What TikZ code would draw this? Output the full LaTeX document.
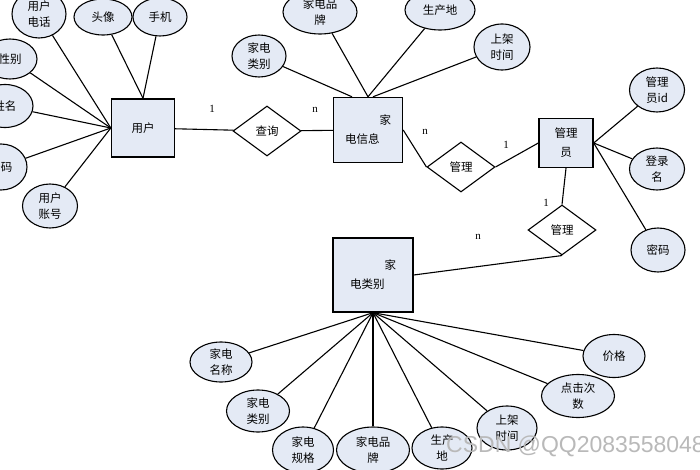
\documentclass[tikz,border=0pt]{standalone}
\usepackage{fontspec}
\setmainfont{Liberation Serif}
\newfontfamily\cjk{Noto Sans CJK SC}
\newfontfamily\wmfont{Liberation Sans}
\usetikzlibrary{shapes.geometric, positioning, calc}
\definecolor{boxfill}{RGB}{228,234,245}

\begin{document}
\begin{tikzpicture}[x=1pt, y=-1pt,
        entity/.style 2 args={draw, line width=1.4pt, fill=boxfill, minimum width=#1, minimum height=#2,
            inner sep=0pt, align=left, font=\cjk\fontsize{11.5}{19}\selectfont},
        attr/.style 2 args={ellipse, draw, line width=1.1pt, fill=boxfill, minimum width=#1, minimum height=#2,
            inner sep=0pt, align=center, font=\cjk\fontsize{11.5}{16}\selectfont},
        rel/.style={diamond, draw, line width=1.1pt, fill=white, minimum width=68pt, minimum height=50pt,
            inner sep=0pt, font=\cjk\fontsize{11.5}{14}\selectfont},
        card/.style={font=\fontsize{11}{13}\selectfont},
        link/.style={line width=1.1pt}
    ]
        % Page
        \path[use as bounding box, fill=white] (0,0) rectangle (700,470);

        % Entities
        \node[entity={63pt}{58pt}] (user) at (143,128) {用户};
        \node[entity={69pt}{65pt}] (info) at (368,130) {\hspace*{3em}家\\电信息};
        \node[entity={54pt}{49pt}, align=center] (admin) at (566,143) {管理\\员};
        \node[entity={80pt}{74pt}] (cat) at (373,275) {\hspace*{3em}家\\电类别};

        % Relations
        \node[rel] (query) at (267,131) {查询};
        \node[rel] (mgone) at (461,167) {管理};
        \node[rel] (mgtwo) at (562,230) {管理};

        % User attributes
        \node[attr={54pt}{48pt}] (uphone) at (39,14) {用户\\电话};
        \node[attr={58pt}{36pt}] (uhead) at (103,17) {头像};
        \node[attr={54pt}{38pt}] (umobile) at (160,17) {手机};
        \node[attr={54pt}{40pt}] (usex) at (10,59) {性别};
        \node[attr={56pt}{43pt}] (uname) at (5,106) {姓名};
        \node[attr={52pt}{46pt}] (upwd) at (1,167) {密码};
        \node[attr={55pt}{44pt}] (uacct) at (50,206) {用户\\账号};

        % Appliance info attributes
        \node[attr={54pt}{42pt}] (itype) at (259,56) {家电\\类别};
        \node[attr={74pt}{44pt}] (ibrand) at (320,12) {家电品\\牌};
        \node[attr={70pt}{40pt}] (iplace) at (440,10) {生产地};
        \node[attr={56pt}{46pt}] (itime) at (502,47) {上架\\时间};

        % Admin attributes
        \node[attr={55pt}{44pt}] (aid) at (657,90) {管理\\员id};
        \node[attr={55pt}{42pt}] (alogin) at (657,169) {登录\\名};
        \node[attr={54pt}{44pt}] (apwd) at (658,250) {密码};

        % Category attributes
        \node[attr={62pt}{40pt}] (cname) at (221,362) {家电\\名称};
        \node[attr={63pt}{42pt}] (ctype) at (258,411) {家电\\类别};
        \node[attr={61pt}{46pt}] (cspec) at (303,450) {家电\\规格};
        \node[attr={73pt}{46pt}] (cbrand) at (373,450) {家电品\\牌};
        \node[attr={60pt}{42pt}] (cplace) at (442,448) {生产\\地};
        \node[attr={60pt}{44pt}] (ctime) at (507,428) {上架\\时间};
        \node[attr={73pt}{43pt}] (cclick) at (578,396) {点击次\\数};
        \node[attr={62pt}{43pt}] (cprice) at (614,356) {价格};

        % Cardinalities
        \node[card] (qone) at (212,109) {1};
        \node[card] (qmany) at (315,110) {n};
        \node[card] (mgonemany) at (425,132) {n};
        \node[card] (mgoneone) at (506,145) {1};
        \node[card] (mgtwoone) at (546,203) {1};
        \node[card] (mgtwomany) at (478,237) {n};

        % Attribute links
        \foreach \a in {uphone, usex, uname, upwd, uacct}
            \draw[link] (\a) -- (user.west);
        \foreach \a in {uhead, umobile}
            \draw[link] (\a) -- (user.north);
        \draw[link] (itype) -- ([xshift=-16pt]info.north);
        \foreach \a in {ibrand, iplace}
            \draw[link] (\a) -- (info.north);
        \draw[link] (itime) -- ([xshift=5pt]info.north);
        \foreach \a in {aid, alogin, apwd}
            \draw[link] (\a) -- (admin.east);
        \foreach \a in {cname, ctype, cspec, cbrand, cplace, ctime, cclick, cprice}
            \draw[link] (\a) -- (cat.south);

        % Relation links
        \draw[link] (user) -- (query) -- (info);
        \draw[link] (info.east) -- (mgone.west);
        \draw[link] (mgone.east) -- (admin.west);
        \draw[link] (admin.south) -- (mgtwo.north);
        \draw[link] (mgtwo.south) -- (cat.east);

        % Watermark
        \node[font=\wmfont\fontsize{23}{25}\selectfont, text=gray!55, anchor=west, inner sep=0pt] (mark) at (446,446) {CSDN @QQ2083558048};
    \end{tikzpicture}
\end{document}
